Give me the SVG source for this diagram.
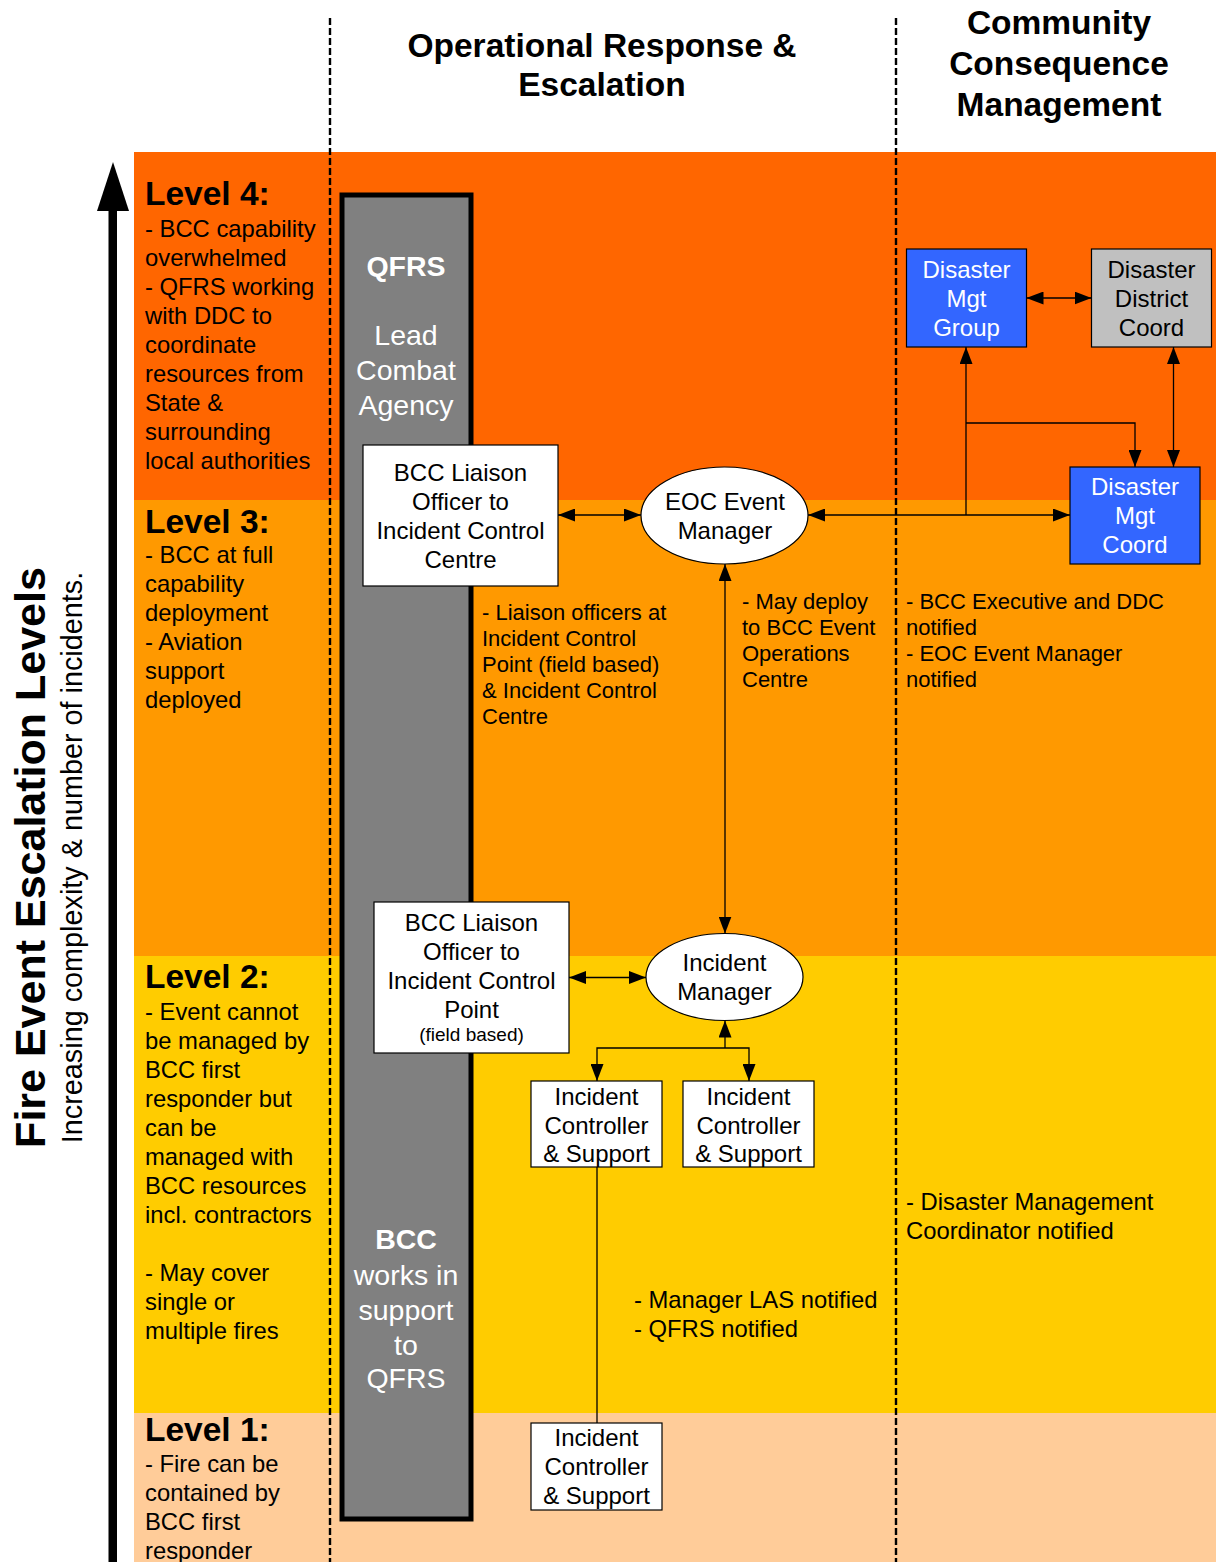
<svg xmlns="http://www.w3.org/2000/svg" width="1216" height="1562" viewBox="0 0 1216 1562">
<style>
text{font-family:"Liberation Sans",Arial,sans-serif;fill:#000}
.hd{font-size:33.5px;font-weight:bold;text-anchor:middle}
.lv{font-size:33.5px;font-weight:bold}
.bd{font-size:23.8px}
.nt{font-size:22px}
.nd{font-size:24px;text-anchor:middle}
.wn{font-size:24px;text-anchor:middle;fill:#fff}
.col{font-size:28.5px;text-anchor:middle;fill:#fff}
.box{fill:#fff;stroke:#000;stroke-width:1.2}
.blue{fill:#3366FF;stroke:#000;stroke-width:1.2}
.grey{fill:#C0C0C0;stroke:#000;stroke-width:1.2}
.dash{stroke:#000;stroke-width:2.4;stroke-dasharray:7 3;fill:none}
.cn{stroke:#000;stroke-width:1.3;fill:none}
.bi{marker-start:url(#ah);marker-end:url(#ah)}
.en{marker-end:url(#ah)}
</style>
<defs>
<marker id="ah" viewBox="0 0 17 13" refX="17" refY="6.5" markerWidth="17" markerHeight="13" orient="auto-start-reverse" markerUnits="userSpaceOnUse"><path d="M0,0 L17,6.5 L0,13 z" fill="#000"/></marker>
</defs>
<rect width="1216" height="1562" fill="#fff"/>
<g id="bands">
<rect x="134" y="152" width="1082" height="348" fill="#FF6600"/>
<rect x="134" y="500" width="1082" height="456" fill="#FF9900"/>
<rect x="134" y="956" width="1082" height="457" fill="#FFCC00"/>
<rect x="134" y="1413" width="1082" height="149" fill="#FFCC99"/>
</g>
<g id="dividers">
<line class="dash" x1="330" y1="18" x2="330" y2="1562"/>
<line class="dash" x1="896" y1="18" x2="896" y2="1562"/>
</g>
<g id="axis">
<rect x="108.5" y="205" width="8.5" height="1357" fill="#000"/>
<polygon points="97,211 113,162 129,211" fill="#000"/>
<text transform="translate(45,857.5) rotate(-90)" style="font-size:43px;font-weight:bold;text-anchor:middle">Fire Event Escalation Levels</text>
<text transform="translate(82,857.5) rotate(-90)" style="font-size:28.8px;text-anchor:middle">Increasing complexity &amp; number of incidents.</text>
</g>
<g id="headers">
<text class="hd" x="602" y="57">Operational Response &amp;</text>
<text class="hd" x="602" y="96">Escalation</text>
<text class="hd" x="1059" y="34">Community</text>
<text class="hd" x="1059" y="75">Consequence</text>
<text class="hd" x="1059" y="116">Management</text>
</g>
<g id="level4">
<text class="lv" x="145" y="205">Level 4:</text>
<text class="bd" x="145" y="237">- BCC capability</text>
<text class="bd" x="145" y="266">overwhelmed</text>
<text class="bd" x="145" y="295">- QFRS working</text>
<text class="bd" x="145" y="324">with DDC to</text>
<text class="bd" x="145" y="353">coordinate</text>
<text class="bd" x="145" y="382">resources from</text>
<text class="bd" x="145" y="411">State &amp;</text>
<text class="bd" x="145" y="440">surrounding</text>
<text class="bd" x="145" y="469">local authorities</text>
</g>
<g id="level3">
<text class="lv" x="145" y="533">Level 3:</text>
<text class="bd" x="145" y="563">- BCC at full</text>
<text class="bd" x="145" y="592">capability</text>
<text class="bd" x="145" y="621">deployment</text>
<text class="bd" x="145" y="650">- Aviation</text>
<text class="bd" x="145" y="679">support</text>
<text class="bd" x="145" y="708">deployed</text>
</g>
<g id="level2">
<text class="lv" x="145" y="988">Level 2:</text>
<text class="bd" x="145" y="1020">- Event cannot</text>
<text class="bd" x="145" y="1049">be managed by</text>
<text class="bd" x="145" y="1078">BCC first</text>
<text class="bd" x="145" y="1107">responder but</text>
<text class="bd" x="145" y="1136">can be</text>
<text class="bd" x="145" y="1165">managed with</text>
<text class="bd" x="145" y="1194">BCC resources</text>
<text class="bd" x="145" y="1223">incl. contractors</text>
<text class="bd" x="145" y="1281">- May cover</text>
<text class="bd" x="145" y="1310">single or</text>
<text class="bd" x="145" y="1339">multiple fires</text>
</g>
<g id="level1">
<text class="lv" x="145" y="1441">Level 1:</text>
<text class="bd" x="145" y="1472">- Fire can be</text>
<text class="bd" x="145" y="1501">contained by</text>
<text class="bd" x="145" y="1530">BCC first</text>
<text class="bd" x="145" y="1559">responder</text>
</g>
<g id="qfrs-column">
<rect x="342" y="195" width="129" height="1324" fill="#808080" stroke="#000" stroke-width="5"/>
<text class="col" x="406" y="276" font-weight="bold">QFRS</text>
<text class="col" x="406" y="345">Lead</text>
<text class="col" x="406" y="380">Combat</text>
<text class="col" x="406" y="415">Agency</text>
<text class="col" x="406" y="1249" font-weight="bold">BCC</text>
<text class="col" x="406" y="1285">works in</text>
<text class="col" x="406" y="1320">support</text>
<text class="col" x="406" y="1355">to</text>
<text class="col" x="406" y="1388">QFRS</text>
</g>
<g id="connectors">
<path class="cn bi" d="M558,515 H641"/>
<path class="cn bi" d="M808,515 H1070"/>
<path class="cn en" d="M966,515 V347"/>
<path class="cn en" d="M966,423 H1135 V467"/>
<path class="cn bi" d="M1173.5,347 V467"/>
<path class="cn bi" d="M1026.5,298 H1091.5"/>
<path class="cn bi" d="M725,564 V933.5"/>
<path class="cn bi" d="M569,977.5 H646"/>
<path class="cn en" d="M725,1048 V1020.5"/>
<path class="cn bi" d="M597,1081 V1048 H749 V1081"/>
<path class="cn" d="M597,1167 V1423"/>
</g>
<g id="liaison-icc">
<rect class="box" x="363" y="445" width="195" height="141"/>
<text class="nd" x="460.5" y="480.5">BCC Liaison</text>
<text class="nd" x="460.5" y="509.5">Officer to</text>
<text class="nd" x="460.5" y="538.5">Incident Control</text>
<text class="nd" x="460.5" y="567.5">Centre</text>
</g>
<g id="eoc-event-manager">
<ellipse class="box" cx="724.5" cy="515.5" rx="83.5" ry="48.5"/>
<text class="nd" x="725" y="509.5">EOC Event</text>
<text class="nd" x="725" y="538.5">Manager</text>
</g>
<g id="disaster-mgt-group">
<rect class="blue" x="906.5" y="249" width="120" height="98"/>
<text class="wn" x="966.5" y="277.5">Disaster</text>
<text class="wn" x="966.5" y="306.5">Mgt</text>
<text class="wn" x="966.5" y="335.5">Group</text>
</g>
<g id="disaster-district-coord">
<rect class="grey" x="1091.5" y="249" width="120" height="98"/>
<text class="nd" x="1151.5" y="277.5">Disaster</text>
<text class="nd" x="1151.5" y="306.5">District</text>
<text class="nd" x="1151.5" y="335.5">Coord</text>
</g>
<g id="disaster-mgt-coord">
<rect class="blue" x="1070" y="467" width="130" height="97"/>
<text class="wn" x="1135" y="494.5">Disaster</text>
<text class="wn" x="1135" y="523.5">Mgt</text>
<text class="wn" x="1135" y="552.5">Coord</text>
</g>
<g id="liaison-icp">
<rect class="box" x="374" y="902" width="195" height="151"/>
<text class="nd" x="471.5" y="930.5">BCC Liaison</text>
<text class="nd" x="471.5" y="959.5">Officer to</text>
<text class="nd" x="471.5" y="988.5">Incident Control</text>
<text class="nd" x="471.5" y="1017.5">Point</text>
<text class="nd" x="471.5" y="1041" style="font-size:19px">(field based)</text>
</g>
<g id="incident-manager">
<ellipse class="box" cx="724.5" cy="977" rx="78.5" ry="43.5"/>
<text class="nd" x="724.5" y="970.5">Incident</text>
<text class="nd" x="724.5" y="999.5">Manager</text>
</g>
<g id="ic-support-1">
<rect class="box" x="531" y="1081" width="131" height="86"/>
<text class="nd" x="596.5" y="1104.5">Incident</text>
<text class="nd" x="596.5" y="1133.5">Controller</text>
<text class="nd" x="596.5" y="1161.5">&amp; Support</text>
</g>
<g id="ic-support-2">
<rect class="box" x="683" y="1081" width="131" height="86"/>
<text class="nd" x="748.5" y="1104.5">Incident</text>
<text class="nd" x="748.5" y="1133.5">Controller</text>
<text class="nd" x="748.5" y="1161.5">&amp; Support</text>
</g>
<g id="ic-support-l1">
<rect class="box" x="531" y="1423" width="131" height="87"/>
<text class="nd" x="596.5" y="1445.5">Incident</text>
<text class="nd" x="596.5" y="1474.5">Controller</text>
<text class="nd" x="596.5" y="1503.5">&amp; Support</text>
</g>
<g id="notes">
<text class="nt" x="482" y="620">- Liaison officers at</text>
<text class="nt" x="482" y="646">Incident Control</text>
<text class="nt" x="482" y="672">Point (field based)</text>
<text class="nt" x="482" y="698">&amp; Incident Control</text>
<text class="nt" x="482" y="724">Centre</text>
<text class="nt" x="742" y="609">- May deploy</text>
<text class="nt" x="742" y="635">to BCC Event</text>
<text class="nt" x="742" y="661">Operations</text>
<text class="nt" x="742" y="687">Centre</text>
<text class="nt" x="906" y="609">- BCC Executive and DDC</text>
<text class="nt" x="906" y="635">notified</text>
<text class="nt" x="906" y="661">- EOC Event Manager</text>
<text class="nt" x="906" y="687">notified</text>
<text class="bd" x="906" y="1209.5">- Disaster Management</text>
<text class="bd" x="906" y="1238.5">Coordinator notified</text>
<text class="bd" x="634" y="1307.5">- Manager LAS notified</text>
<text class="bd" x="634" y="1336.5">- QFRS notified</text>
</g>
</svg>
